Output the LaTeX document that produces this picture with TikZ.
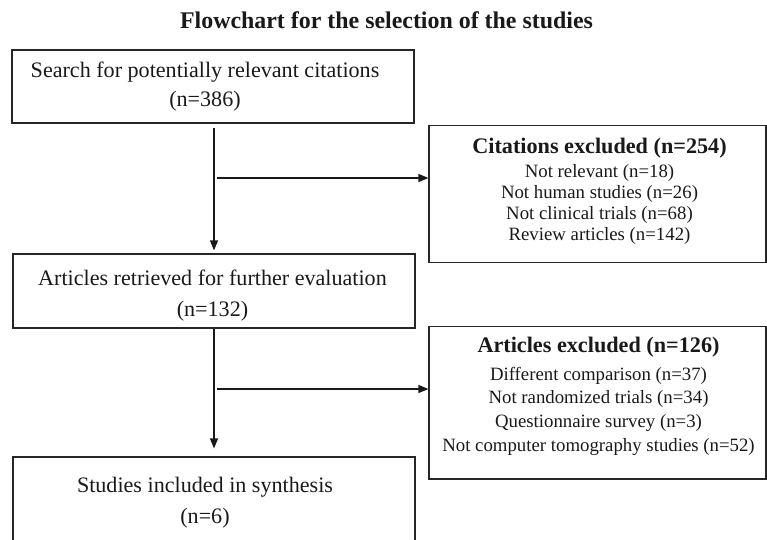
\documentclass[tikz,border=0pt]{standalone}
\usepackage{fontspec}
\setmainfont{Liberation Serif}
\usetikzlibrary{arrows.meta}
\newcommand\txtlines[1]{\begin{tabular}[t]{@{}c@{}}#1\end{tabular}}
\begin{document}
\begin{tikzpicture}[x=1pt,y=-1pt,
  boxnode/.style={draw=black!85,line width=1.2pt,inner sep=0pt,anchor=center},
  txtnode/.style={inner sep=0pt,anchor=base,text=black!90},
  arr/.style={draw=black!90,line width=1.2pt,-{Triangle[length=10pt,width=8pt]}}]
\useasboundingbox (0,0) rectangle (767,539);
% title
\node[txtnode,font=\fontsize{23.9}{28}\selectfont\bfseries] (title) at (386.5,28) {Flowchart for the selection of the studies};
% left column boxes
\node[boxnode,minimum width=402pt,minimum height=73pt] (b1) at (213,86.5) {};
\node[boxnode,minimum width=402pt,minimum height=74pt] (b2) at (214,291) {};
\node[boxnode,minimum width=402pt,minimum height=100pt] (b3) at (214,507) {};
% right column boxes
\node[boxnode,minimum width=337pt,minimum height=137pt] (c1) at (597.5,194) {};
\node[boxnode,minimum width=337pt,minimum height=152.5pt] (c2) at (597.5,402.75) {};
% texts
\node[txtnode,font=\fontsize{22.1}{29}\selectfont] (t1) at (205,77)
  {\txtlines{Search for potentially relevant citations\\(n=386)}};
\node[txtnode,font=\fontsize{22.1}{31}\selectfont] (t2) at (212.5,285)
  {\txtlines{Articles retrieved for further evaluation\\(n=132)}};
\node[txtnode,font=\fontsize{22.1}{31}\selectfont] (t3) at (205,492)
  {\txtlines{Studies included in synthesis\\(n=6)}};
\node[txtnode,font=\fontsize{18.8}{21}\selectfont] (t4) at (599.5,153.5)
  {\txtlines{{\fontsize{22.2}{21}\selectfont\bfseries Citations excluded (n=254)}\\[3pt]
   Not relevant (n=18)\\Not human studies (n=26)\\Not clinical trials (n=68)\\Review articles (n=142)}};
\node[txtnode,font=\fontsize{18.8}{23.7}\selectfont] (t5) at (598.5,352.5)
  {\txtlines{{\fontsize{22.2}{23.7}\selectfont\bfseries Articles excluded (n=126)}\\[4pt]
   Different comparison (n=37)\\Not randomized trials (n=34)\\Questionnaire survey (n=3)\\Not computer tomography studies (n=52)}};
% connectors
\coordinate (j1) at (217,178);
\coordinate (j2) at (217,389);
\draw[arr] ([xshift=1pt,yshift=-4pt]b1.south) -- ([yshift=3pt]b2.north);
\draw[arr] (b2.south) -- ([yshift=8pt]b3.north);
\draw[arr] (j1) -- (j1 -| c1.west);
\draw[arr] (j2) -- (j2 -| c2.west);
\end{tikzpicture}
\end{document}
